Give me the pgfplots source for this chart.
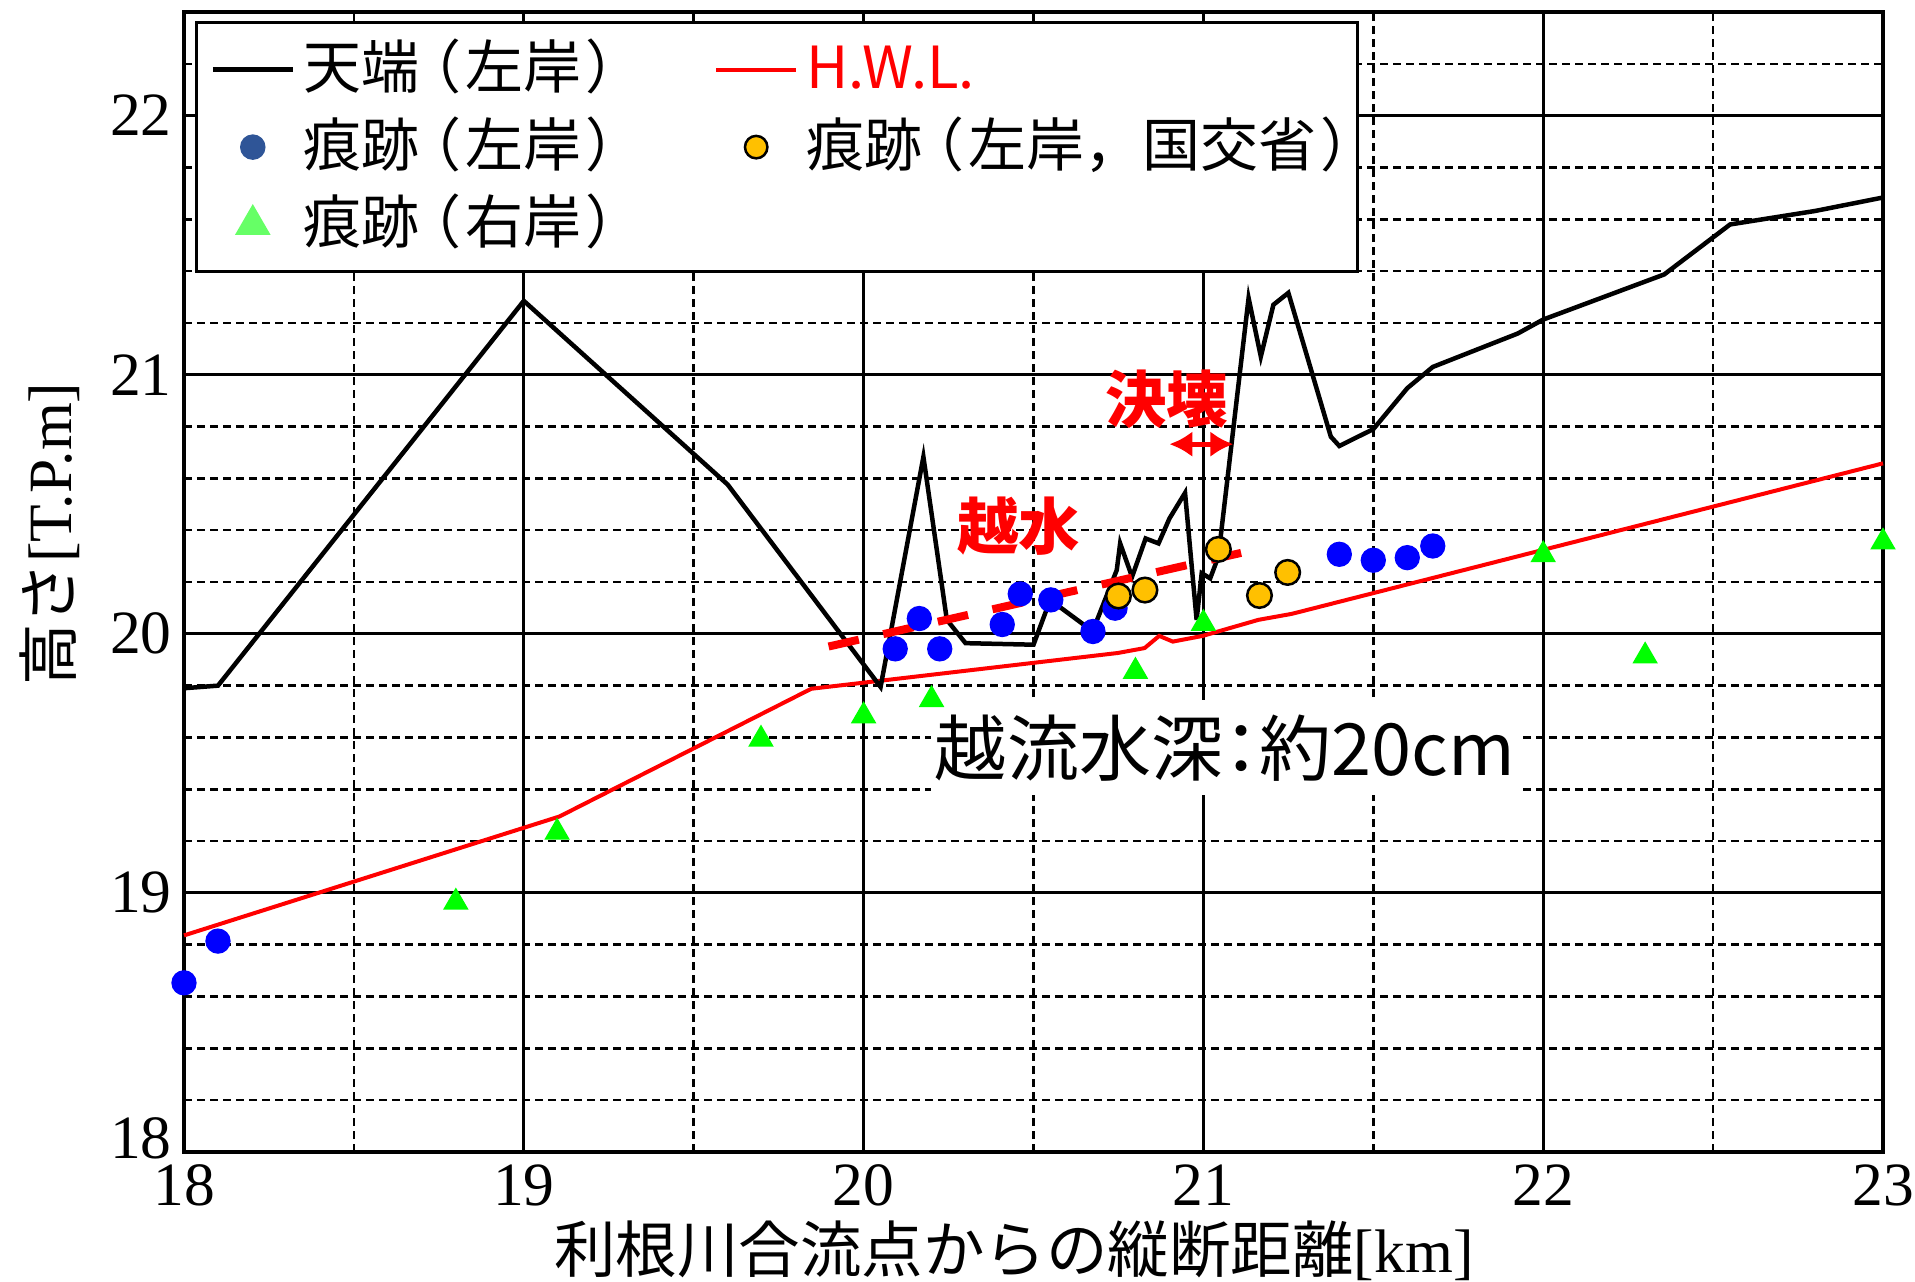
\documentclass[border=0pt]{standalone}
\usepackage{fontspec}
\setmainfont{Liberation Serif}
\newfontfamily\jp{Noto Sans CJK JP}
\newfontfamily\jpp[RawFeature=+palt]{Noto Sans CJK JP}
\usepackage{pgfplots}
\pgfplotsset{compat=1.18}
\usetikzlibrary{arrows.meta}

\definecolor{markblue}{RGB}{0,0,255}
\definecolor{legblue}{RGB}{47,85,151}
\definecolor{markgreen}{RGB}{0,255,0}
\definecolor{leggreen}{RGB}{102,255,102}
\definecolor{markyellow}{RGB}{255,192,0}

% parentheses with a little air around them in the legend
\newcommand\lp{\kern.2em（\kern.1em}
\newcommand\rp{\kern.1em）}

\begin{document}
\begin{tikzpicture}
\begin{axis}[
  scale only axis, width=169.9mm, height=114.0mm,
  xmin=18, xmax=23, ymin=18, ymax=22.4,
  clip=false,
  xtick={18,19,20,21,22,23},
  ytick={18,19,20,21,22},
  yticklabels={\raisebox{1.4mm}[\height][\depth]{18},19,20,21,22},
  minor xtick={18.5,19.5,20.5,21.5,22.5},
  minor ytick={18.2,18.4,18.6,18.8,19.2,19.4,19.6,19.8,20.2,20.4,20.6,20.8,21.2,21.4,21.6,21.8,22.2,22.4},
  grid=both,
  major grid style={black, line width=0.3mm},
  minor grid style={black, line width=0.25mm, dash pattern=on 0.8mm off 0.5mm},
  major tick length=0pt, minor tick length=0pt,
  axis line style={line width=0.35mm},
  /pgf/number format/assume math mode=true,
  tick label style={font=\fontsize{17.5}{20}\selectfont},
  xlabel={\jp 利根川合流点からの縦断距離\rmfamily[km]},
  ylabel={\jp 高さ\rmfamily[T.P.m]},
  label style={font=\fontsize{17.5}{21}\selectfont},
  xlabel style={at={(axis description cs:0.4885,0)}, anchor=base, yshift=-12.0mm},
  ylabel style={at={(axis description cs:-0.0789,0.542)}, anchor=center},
  legend columns=2,
  legend cell align=left,
  legend image code/.code={\draw[mark repeat=2,mark phase=2,#1] plot coordinates {(0mm,0mm) (4mm,0mm) (8mm,0mm)};},
  legend style={at={(axis description cs:0.0065,0.992)}, anchor=north west,
    draw=black, line width=0.3mm, fill=white,
    font=\jpp\fontsize{16.5}{19}\selectfont,
    inner xsep=1.4mm, inner ysep=1.2mm,
    nodes={inner xsep=0.8mm, inner ysep=0.4mm, text height=5.0mm, text depth=1.2mm},
    row sep=0.75mm,
    /tikz/every even column/.append style={column sep=9.0mm}},
]
% legend samples
\addlegendimage{black, line width=0.45mm}
\addlegendentry{天端\lp 左岸\rp}
\addlegendimage{red, line width=0.4mm}
\addlegendentry{\textcolor{red}{H.W.L.}}
\addlegendimage{only marks, mark=*, mark size=3.2pt, mark options={draw=legblue, fill=legblue}}
\addlegendentry{痕跡\lp 左岸\rp}
\addlegendimage{only marks, mark=*, mark size=3.2pt, mark options={draw=black, fill=markyellow, line width=0.25mm}}
\addlegendentry{痕跡\lp 左岸{\jp ，}国交省\rp\kern-1.6mm}
\addlegendimage{only marks, mark=triangle*, mark size=5pt, mark options={draw=leggreen, fill=leggreen}}
\addlegendentry{痕跡\lp 右岸\rp}

% annotation box for the overflow depth
\node[fill=white, inner xsep=0.4mm, minimum height=9.5mm, font=\jpp\fontsize{20.5}{24}\selectfont]
  at (axis cs:21.063,19.56) {越流水深：約20cm};

% H.W.L.
\addplot[forget plot, red, line width=0.4mm] coordinates {
  (18.000,18.836) (19.105,19.295) (19.846,19.788) (20.043,19.818)
  (20.748,19.926) (20.827,19.945) (20.870,19.992) (20.910,19.970)
  (20.998,19.992) (21.162,20.054) (21.260,20.077) (23.000,20.658)
};

% crest elevation, left bank
\addplot[forget plot, black, line width=0.45mm] coordinates {
  (18.000,19.790) (18.100,19.800) (19.000,21.285) (19.600,20.576)
  (20.050,19.795) (20.176,20.683) (20.245,20.054) (20.300,19.964)
  (20.500,19.958) (20.549,20.131) (20.674,20.010) (20.745,20.246)
  (20.755,20.349) (20.790,20.220) (20.830,20.368) (20.868,20.349)
  (20.900,20.445) (20.946,20.544) (20.980,20.054) (20.995,20.234)
  (21.020,20.214) (21.044,20.298) (21.133,21.296) (21.169,21.070)
  (21.206,21.270) (21.250,21.316) (21.375,20.761) (21.400,20.725)
  (21.500,20.790) (21.600,20.948) (21.675,21.030) (21.925,21.159)
  (22.000,21.213) (22.356,21.387) (22.550,21.580) (22.800,21.632)
  (23.000,21.684)
};

% overflow trend
\addplot[forget plot, red, line width=0.8mm, dash pattern=on 3.1mm off 2.5mm] coordinates {
  (19.897,19.951) (21.113,20.313)
};

% right-bank flood marks
\addplot[forget plot, only marks, mark=triangle*, mark size=3.8pt, mark options={draw=markgreen, fill=markgreen}] coordinates {
  (18.800,18.964) (19.098,19.234) (19.698,19.593) (20.000,19.683)
  (20.200,19.746) (20.800,19.855) (21.000,20.040) (22.000,20.305)
  (22.300,19.914) (23.000,20.354)
};

% left-bank flood marks
\addplot[forget plot, only marks, mark=*, mark size=3.4pt, mark options={draw=markblue, fill=markblue}] coordinates {
  (18.000,18.653) (18.100,18.814) (20.093,19.942) (20.164,20.059)
  (20.224,19.942) (20.408,20.036) (20.461,20.154) (20.551,20.131)
  (20.675,20.009) (20.740,20.099) (21.400,20.307) (21.500,20.284)
  (21.600,20.294) (21.675,20.339)
};

% left-bank flood marks, MLIT survey
\addplot[forget plot, only marks, mark=*, mark size=3.5pt, mark options={draw=black, fill=markyellow, line width=0.25mm}] coordinates {
  (20.750,20.146) (20.828,20.169) (21.044,20.326) (21.165,20.148)
  (21.248,20.237)
};

% labels
\node[text=red, font=\jp\bfseries\fontsize{17.5}{20}\selectfont] at (axis cs:20.456,20.416) {越水};
\node[text=red, font=\jp\bfseries\fontsize{17.5}{20}\selectfont] at (axis cs:20.892,20.905) {決壊};
\draw[red, line width=0.5mm, {Latex[length=2.3mm,width=2.6mm]}-{Latex[length=2.3mm,width=2.6mm]}]
  (axis cs:20.900,20.732) -- (axis cs:21.088,20.732);
\end{axis}
\pgfresetboundingbox
\path[use as bounding box] (-18.4mm,-12.9mm) rectangle (173.1mm,115.2mm);
\end{tikzpicture}
\end{document}
